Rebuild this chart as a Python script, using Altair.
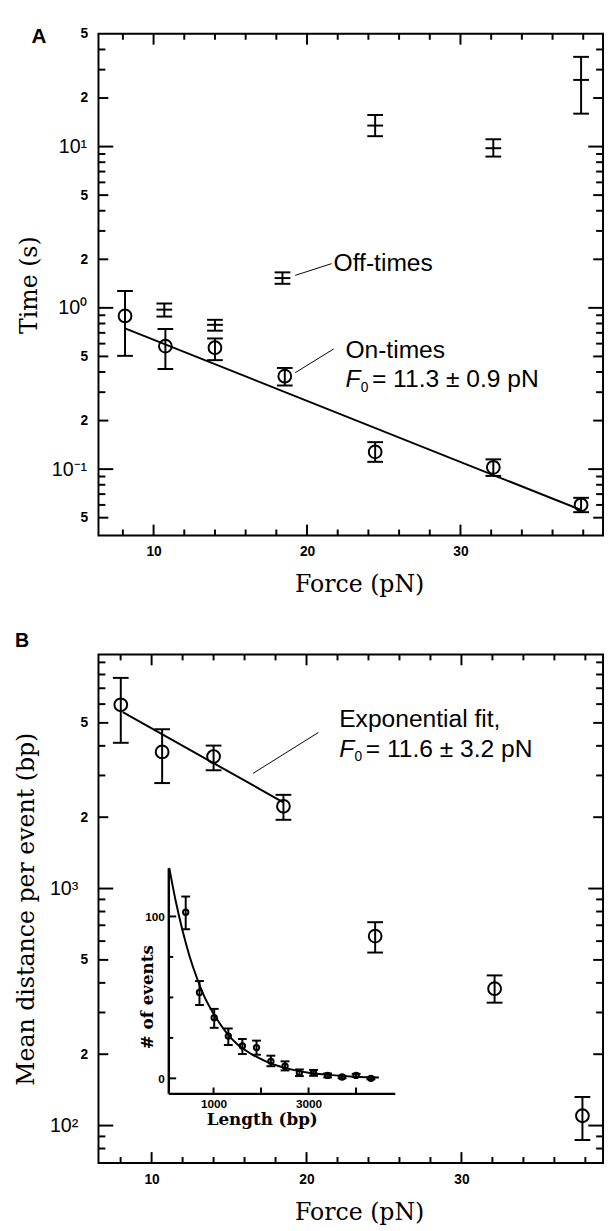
import math
import altair as alt
import pandas as pd

SANS = "Liberation Sans"
SERIF = "DejaVu Serif"

# ---------------- Panel A: on-/off-times versus force ----------------
on_force = [8.14, 10.77, 14.0, 18.55, 24.44, 32.14, 37.86]
on_time = [0.891, 0.579, 0.566, 0.377, 0.128, 0.1026, 0.0601]
on_low = [0.504, 0.418, 0.474, 0.330, 0.111, 0.0908, 0.0541]
on_high = [1.272, 0.739, 0.646, 0.424, 0.147, 0.115, 0.0664]

off_force = [10.7, 14.0, 18.4, 24.44, 32.14, 37.86]
off_time = [0.975, 0.785, 1.53, 13.5, 9.77, 25.9]
off_low = [0.883, 0.722, 1.41, 11.6, 8.67, 16.0]
off_high = [1.064, 0.843, 1.66, 15.7, 11.1, 36.0]

fitA_force = [8.14, 37.86]
fitA_time = [0.746, 0.0558]

# ---------------- Panel B: mean distance per event ----------------
dist_force = [8.01, 10.68, 14.0, 18.51, 24.43, 32.14, 37.81]
dist_mean = [5960, 3770, 3606, 2224, 630, 378, 110]
dist_low = [4120, 2786, 3155, 1950, 537, 330, 86.9]
dist_high = [7740, 4700, 4010, 2485, 721, 430, 132]
fitB_force = [8.14, 18.5]
fitB_dist = [5546, 2311]

# ---------------- Inset: length histogram ----------------
len_bp = [414, 704, 1014, 1311, 1607, 1905, 2207, 2505, 2807, 3105, 3402, 3706, 4002, 4313]
len_count = [102.6, 53.0, 37.5, 26.1, 20.0, 19.0, 10.5, 7.5, 3.4, 3.4, 1.8, 0.8, 1.8, 0.0]
len_low = [92.1, 45.3, 31.2, 20.6, 15.0, 14.6, 7.5, 4.9, 1.4, 1.6, 0.6, 0.0, 0.8, -0.6]
len_high = [112.3, 60.1, 42.9, 30.8, 24.3, 23.3, 14.0, 10.5, 5.5, 5.2, 3.0, 1.6, 2.8, 0.6]
curve_bp = [68, 200, 350, 500, 650, 800, 1000, 1250, 1500, 1800, 2100, 2500, 3000, 3500, 4000, 4480]
curve_count = [130, 110, 91, 75, 62, 51, 40, 29, 21, 15, 10.5, 6.5, 3.5, 2.0, 1.0, 0.5]

# ---------------- ticks and labels ----------------
force_major = [10, 20, 30]
force_minor = [8, 12, 14, 16, 18, 22, 24, 26, 28, 32, 34, 36, 38]
time_dec = [0.1, 1, 10]
time_mid = [0.05, 0.2, 0.5, 2, 5, 20]
time_minor = [0.06, 0.07, 0.08, 0.09, 0.3, 0.4, 0.6, 0.7, 0.8, 0.9, 3, 4, 6, 7, 8, 9, 30, 40]
time_labels = [0.05, 0.1, 0.2, 0.5, 1, 2, 5, 10, 20, 50]
dist_dec = [100, 1000]
dist_mid = [200, 500, 2000, 5000]
dist_minor = [80, 90, 300, 400, 600, 700, 800, 900, 3000, 4000, 6000, 7000, 8000, 9000]
dist_labels = [100, 200, 500, 1000, 2000, 5000]
inset_y_major = [0, 100]
inset_y_minor = [25, 50, 75]
inset_y_labels = [0, 100]
inset_x_ticks = [1000, 2000, 3000, 4000]
inset_x_labels = [1000, 3000]

# ---------------- annotations ----------------
leadA_x1 = [19.23, 19.23]
leadA_y1 = [1.59, 0.396]
leadA_x2 = [21.6, 21.73]
leadA_y2 = [1.88, 0.556]
txtA_x = [21.73, 22.5]
txtA_y = [1.70, 0.492]
txtA_t = ["Off-times", "On-times"]
f0A = {"x": 22.5, "y": 0.323, "rest": "= 11.3 \u00b1 0.9 pN"}

leadB_x1 = [16.54]
leadB_y1 = [3059]
leadB_x2 = [20.77]
leadB_y2 = [4556]
txtB_x = [22.11]
txtB_y = [4808]
txtB_t = ["Exponential fit,"]
f0B = {"x": 22.11, "y": 3606, "rest": "= 11.6 \u00b1 3.2 pN"}

# ---------------- geometry ----------------
A_W, A_H = 513, 510
B_W, B_H = 513, 517
XA_DOM, YA_DOM = [6.41, 39.29], [0.0388, 50]
XB_DOM, YB_DOM = [6.571, 39.14], [69.55, 9719]
XI_DOM, YI_DOM = [48, 4816], [-9.3, 130]
IN_X0, IN_X1, IN_Y0, IN_Y1 = 71, 301.3, 446.3, 217

xA = alt.Scale(domain=XA_DOM, zero=False, nice=False)
yA = alt.Scale(type="log", domain=YA_DOM, nice=False)
xB = alt.Scale(domain=XB_DOM, zero=False, nice=False)
yB = alt.Scale(type="log", domain=YB_DOM, nice=False)
xI = alt.Scale(domain=XI_DOM, range=[IN_X0, IN_X1], zero=False, nice=False)
yI = alt.Scale(domain=YI_DOM, range=[IN_Y0, IN_Y1], zero=False, nice=False)

LEAD = "round(datum.value / pow(10, floor(log(datum.value) / LN10 + 1e-6)))"
EXPO = "round(log(datum.value) / LN10)"
IS_DEC = f"{LEAD} == 1"
LOG_LABEL = (f"{LEAD} == 1 ? ({EXPO} == -1 ? '10\u207b\u00b9' : {EXPO} == 0 ? '10\u2070' : "
             f"{EXPO} == 1 ? '10\u00b9' : {EXPO} == 2 ? '10\u00b2' : '10\u00b3') : '' + {LEAD}")


def label_y_axis(values, title, title_x, big_pad):
    return alt.Axis(orient="left", values=values, labelExpr=LOG_LABEL, ticks=False, tickSize=0,
                    domain=False, grid=False, labelFont=SANS, labelColor="black",
                    labelFontSize={"condition": {"test": IS_DEC, "value": 20}, "value": 14},
                    labelFontWeight={"condition": {"test": IS_DEC, "value": "normal"}, "value": "bold"},
                    labelPadding={"condition": {"test": IS_DEC, "value": big_pad}, "value": 11},
                    labelOverlap=False, labelFlush=False, labelBound=False,
                    labelBaseline="middle", labelAlign="right",
                    title=title, titleFont=SERIF, titleFontSize=24, titleFontWeight="normal",
                    titleColor="black", titleX=title_x, titleBaseline="middle", titleAngle=270)


def label_x_axis(values, pad, title_y):
    return alt.Axis(orient="bottom", values=values, format="d", ticks=False, tickSize=0,
                    domain=False, grid=False, labelFont=SANS, labelFontSize=14,
                    labelFontWeight="bold", labelColor="black", labelPadding=pad,
                    labelOverlap=False, labelFlush=False, labelBound=False,
                    title="Force (pN)", titleFont=SERIF, titleFontSize=24,
                    titleFontWeight="normal", titleColor="black", titleX=265, titleY=title_y,
                    titleBaseline="middle")


def xenc(field, scale, axis=None):
    return alt.X(field, type="quantitative", scale=scale, axis=axis)


def yenc(field, scale, axis=None):
    return alt.Y(field, type="quantitative", scale=scale, axis=axis)


def shift(dom, size, log, start, px):
    """Data value lying px pixels inward from one end of a scale domain."""
    lo, hi = dom
    sgn = 1 if start == 0 else -1
    base = lo if start == 0 else hi
    if log:
        return base * 10 ** (sgn * px * math.log10(hi / lo) / size)
    return base + sgn * px * (hi - lo) / size


def tick_rules(rows, xs, ys):
    df = pd.DataFrame(rows, columns=["tx1", "tx2", "ty1", "ty2"])
    return alt.Chart(df).mark_rule(color="black", strokeWidth=2).encode(
        x=xenc("tx1", xs), x2="tx2", y=yenc("ty1", ys), y2="ty2")


def frame_ticks(xs, ys, xdom, ydom, W, H, ylog, x_classes, y_classes, sides=("l", "r", "b", "t")):
    """Inward-pointing frame ticks at the given tick values."""
    rows = []
    for vals, ln in x_classes:
        for v in vals:
            if "b" in sides:
                rows.append((v, v, ydom[0], shift(ydom, H, ylog, 0, ln)))
            if "t" in sides:
                rows.append((v, v, ydom[1], shift(ydom, H, ylog, 1, ln)))
    for vals, ln in y_classes:
        for v in vals:
            if "l" in sides:
                rows.append((xdom[0], shift(xdom, W, False, 0, ln), v, v))
            if "r" in sides:
                rows.append((xdom[1], shift(xdom, W, False, 1, ln), v, v))
    return tick_rules(rows, xs, ys)


RULE = dict(color="black", strokeWidth=2)
CAP = dict(orient="horizontal", size=16, thickness=2, color="black", opacity=1)
CIRC = dict(shape="circle", filled=False, size=169, strokeWidth=2, color="black", opacity=1)


def f0_layers(spec, xs, ys):
    d = pd.DataFrame({"x": [spec["x"]], "y": [spec["y"]], "rest": [spec["rest"]],
                      "F": ["F"], "sub": ["0"]})
    base = alt.Chart(d)
    enc = dict(x=xenc("x", xs), y=yenc("y", ys))
    return [
        base.mark_text(font=SANS, fontSize=25, fontStyle="italic", align="left",
                       baseline="alphabetic", color="black").encode(text="F:N", **enc),
        base.mark_text(font=SANS, fontSize=14, align="left", baseline="alphabetic",
                       color="black", dx=15.5, dy=5).encode(text="sub:N", **enc),
        base.mark_text(font=SANS, fontSize=25, align="left", baseline="alphabetic",
                       color="black", dx=27).encode(text="rest:N", **enc),
    ]


def panel_letter(letter, x, y, size):
    return alt.Chart(pd.DataFrame({"t": [letter]})).mark_text(
        font=SANS, fontSize=size, fontWeight="bold", align="left", baseline="alphabetic",
        color="black").encode(x=alt.value(x), y=alt.value(y), text="t:N")


X_CLASSES = [(force_major, 11), (force_minor, 6)]

# ================= Panel A =================
dfA_on = pd.DataFrame({"force": on_force, "value": on_time, "low": on_low, "high": on_high})
dfA_off = pd.DataFrame({"force": off_force, "value": off_time, "low": off_low, "high": off_high})
dfA_fit = pd.DataFrame({"force": fitA_force, "value": fitA_time})
dfA_lead = pd.DataFrame({"x1": leadA_x1, "y1": leadA_y1, "x2": leadA_x2, "y2": leadA_y2})
dfA_txt = pd.DataFrame({"x": txtA_x, "y": txtA_y, "t": txtA_t})

A_layers = [
    alt.Chart(dfA_on).mark_rule(**RULE).encode(x=xenc("force", xA), y=yenc("low", yA), y2="high"),
    alt.Chart(dfA_on).mark_tick(**CAP).encode(x=xenc("force", xA), y=yenc("low", yA)),
    alt.Chart(dfA_on).mark_tick(**CAP).encode(x=xenc("force", xA), y=yenc("high", yA)),
    alt.Chart(dfA_on).mark_point(**CIRC).encode(
        x=xenc("force", xA, label_x_axis(force_major, 9, 50)),
        y=yenc("value", yA, label_y_axis(time_labels, "Time (s)", -70.5, 12))),
    alt.Chart(dfA_off).mark_rule(**RULE).encode(x=xenc("force", xA), y=yenc("low", yA), y2="high"),
    alt.Chart(dfA_off).mark_tick(**CAP).encode(x=xenc("force", xA), y=yenc("low", yA)),
    alt.Chart(dfA_off).mark_tick(**CAP).encode(x=xenc("force", xA), y=yenc("high", yA)),
    alt.Chart(dfA_off).mark_tick(**CAP).encode(x=xenc("force", xA), y=yenc("value", yA)),
    alt.Chart(dfA_fit).mark_line(color="black", strokeWidth=2).encode(
        x=xenc("force", xA), y=yenc("value", yA)),
    alt.Chart(dfA_lead).mark_rule(color="black", strokeWidth=1).encode(
        x=xenc("x1", xA), y=yenc("y1", yA), x2="x2", y2="y2"),
    alt.Chart(dfA_txt).mark_text(font=SANS, fontSize=25, align="left", baseline="alphabetic",
                                 color="black").encode(x=xenc("x", xA), y=yenc("y", yA), text="t:N"),
    *f0_layers(f0A, xA, yA),
    panel_letter("A", -68, 9.5, 21),
    frame_ticks(xA, yA, XA_DOM, YA_DOM, A_W, A_H, True, X_CLASSES,
                [(time_dec, 15), (time_mid, 10), (time_minor, 7)]),
]
panelA = alt.layer(*A_layers).resolve_scale(x="independent", y="independent").properties(
    width=A_W, height=A_H)

# ================= Panel B =================
dfB = pd.DataFrame({"force": dist_force, "value": dist_mean, "low": dist_low, "high": dist_high})
dfB_fit = pd.DataFrame({"force": fitB_force, "value": fitB_dist})
dfB_lead = pd.DataFrame({"x1": leadB_x1, "y1": leadB_y1, "x2": leadB_x2, "y2": leadB_y2})
dfB_txt = pd.DataFrame({"x": txtB_x, "y": txtB_y, "t": txtB_t})
dfI = pd.DataFrame({"bp": len_bp, "count": len_count, "low": len_low, "high": len_high})
dfI_curve = pd.DataFrame({"bp": curve_bp, "count": curve_count})

inset_y_label_axis = alt.Axis(
    orient="left", offset=-IN_X0, values=inset_y_labels, ticks=False, tickSize=0, domain=True,
    domainColor="black", domainWidth=2.5, grid=False, labelFont=SANS, labelFontSize=12,
    labelFontWeight="bold", labelColor="black", labelPadding=4, labelOverlap=False,
    labelFlush=False, labelBound=False, title="# of events", titleFont=SERIF, titleFontSize=17,
    titleFontWeight="bold", titleColor="black", titleX=-21.5, titleY=348, titleBaseline="middle",
    titleAngle=270)
inset_x_label_axis = alt.Axis(
    orient="bottom", offset=-(B_H - IN_Y0), values=inset_x_labels, format="d", ticks=False,
    tickSize=0, domain=True, domainColor="black", domainWidth=2.5, grid=False, labelFont=SANS,
    labelFontSize=12, labelFontWeight="bold", labelColor="black", labelPadding=5,
    labelOverlap=False, labelFlush=False, labelBound=False, title="Length (bp)",
    titleFont=SERIF, titleFontSize=17, titleFontWeight="bold", titleColor="black", titleX=166,
    titleY=27, titleBaseline="middle")

ICAP = dict(orient="horizontal", size=9, thickness=2, color="black", opacity=1)
IN_W, IN_H = IN_X1 - IN_X0, IN_Y0 - IN_Y1

B_layers = [
    alt.Chart(dfB).mark_rule(**RULE).encode(x=xenc("force", xB), y=yenc("low", yB), y2="high"),
    alt.Chart(dfB).mark_tick(**CAP).encode(x=xenc("force", xB), y=yenc("low", yB)),
    alt.Chart(dfB).mark_tick(**CAP).encode(x=xenc("force", xB), y=yenc("high", yB)),
    alt.Chart(dfB).mark_point(**CIRC).encode(
        x=xenc("force", xB, label_x_axis(force_major, 10, 51)),
        y=yenc("value", yB, label_y_axis(dist_labels, "Mean distance per event (bp)", -73.5, 21))),
    alt.Chart(dfB_fit).mark_line(color="black", strokeWidth=2).encode(
        x=xenc("force", xB), y=yenc("value", yB)),
    alt.Chart(dfB_lead).mark_rule(color="black", strokeWidth=1).encode(
        x=xenc("x1", xB), y=yenc("y1", yB), x2="x2", y2="y2"),
    alt.Chart(dfB_txt).mark_text(font=SANS, fontSize=25, align="left", baseline="alphabetic",
                                 color="black").encode(x=xenc("x", xB), y=yenc("y", yB), text="t:N"),
    *f0_layers(f0B, xB, yB),
    # inset
    alt.Chart(dfI_curve).mark_line(color="black", strokeWidth=2, interpolate="monotone").encode(
        x=xenc("bp", xI), y=yenc("count", yI)),
    alt.Chart(dfI).mark_rule(**RULE).encode(x=xenc("bp", xI), y=yenc("low", yI), y2="high"),
    alt.Chart(dfI).mark_tick(**ICAP).encode(x=xenc("bp", xI), y=yenc("low", yI)),
    alt.Chart(dfI).mark_tick(**ICAP).encode(x=xenc("bp", xI), y=yenc("high", yI)),
    alt.Chart(dfI).mark_point(shape="circle", filled=False, size=30, strokeWidth=2, color="black",
                              opacity=1).encode(
        x=xenc("bp", xI, inset_x_label_axis), y=yenc("count", yI, inset_y_label_axis)),
    panel_letter("B", -85, -8, 20),
    frame_ticks(xB, yB, XB_DOM, YB_DOM, B_W, B_H, True, X_CLASSES,
                [(dist_dec, 15), (dist_mid, 10), (dist_minor, 7)]),
    frame_ticks(xI, yI, XI_DOM, YI_DOM, IN_W, IN_H, False, [(inset_x_ticks, 6)],
                [(inset_y_major, 8), (inset_y_minor, 5)], sides=("l", "b")),
]
panelB = alt.layer(*B_layers).resolve_scale(x="independent", y="independent").properties(
    width=B_W, height=B_H)

chart = alt.vconcat(panelA, panelB, spacing=121, bounds="flush").properties(
    padding={"left": 5, "top": 7, "right": 0, "bottom": 0}
).configure_view(stroke="black", strokeWidth=2)

chart.save("out.html", embed_options={"renderer": "svg", "actions": False})
